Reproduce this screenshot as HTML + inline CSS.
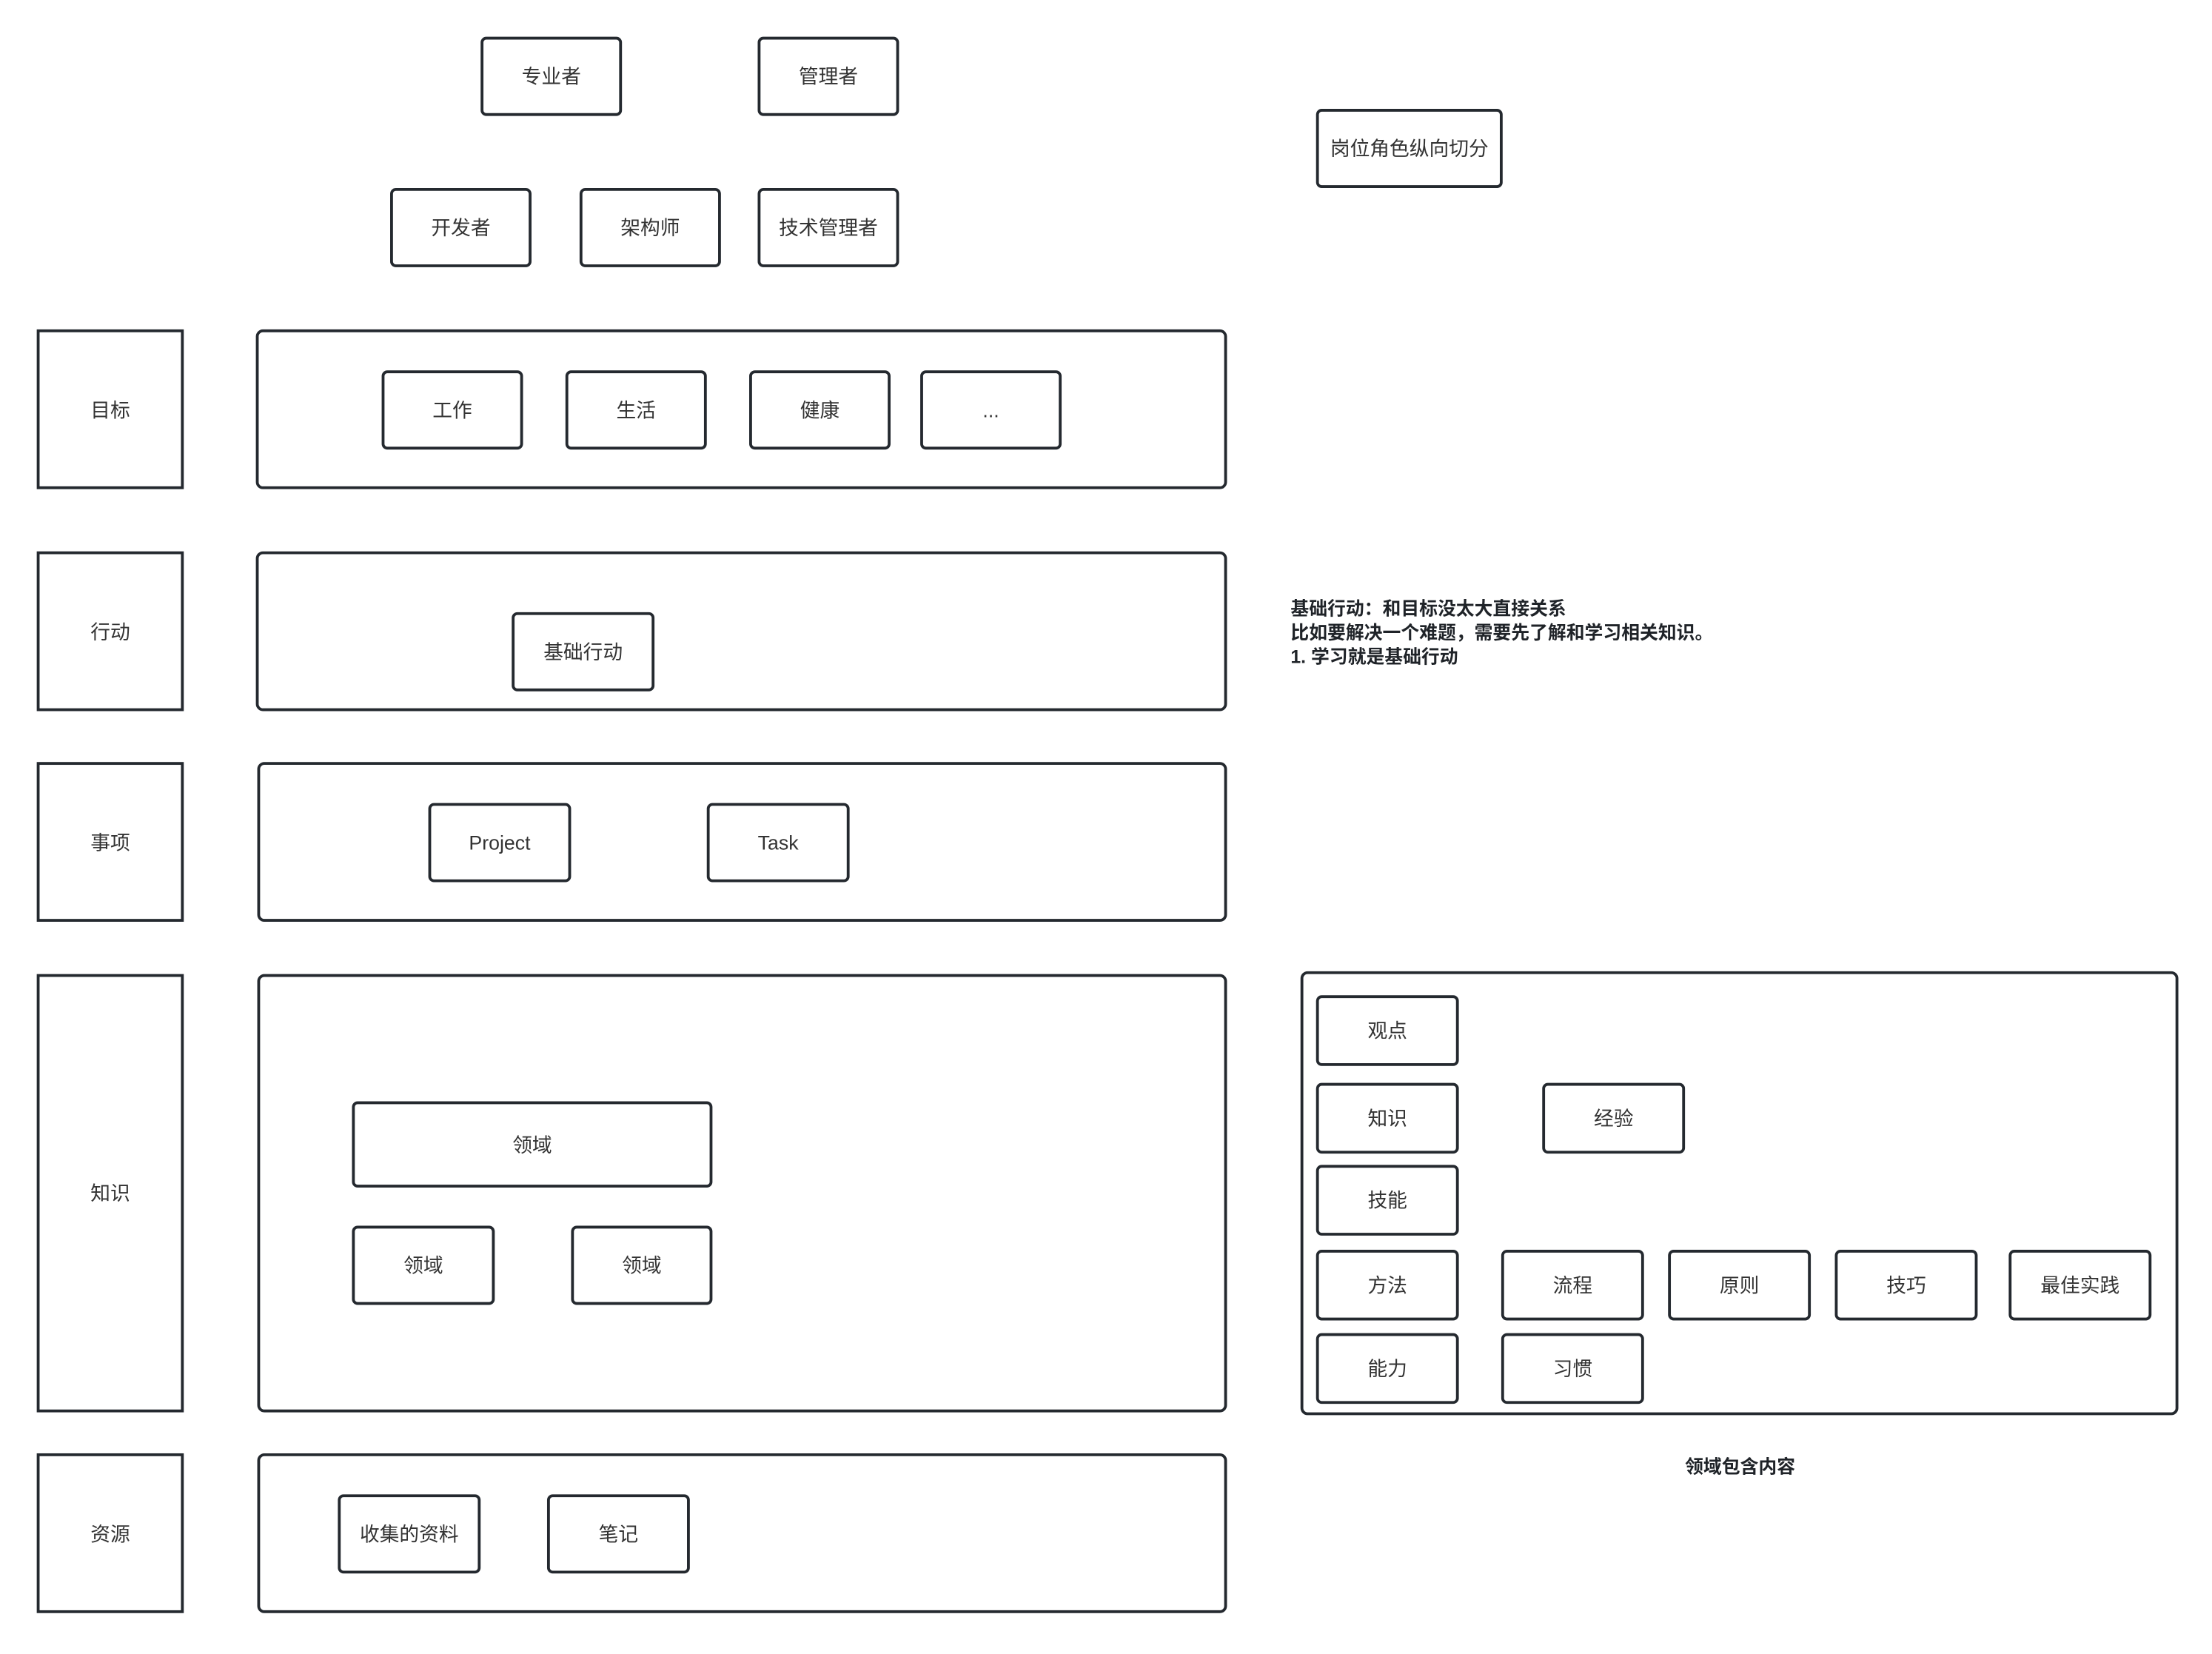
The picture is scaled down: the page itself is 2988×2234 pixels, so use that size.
<!DOCTYPE html>
<html><head><meta charset="utf-8"><style>
html,body{margin:0;padding:0;background:#fff;width:2988px;height:2226px;overflow:hidden}
#w{position:absolute;left:0;top:0;width:1570px;height:1170px;transform:scale(1.9095);transform-origin:0 0}
.b{position:absolute;box-sizing:border-box;border:2px solid #24292f;border-radius:4px;display:flex;align-items:center;justify-content:center;font-family:"Liberation Sans","Noto Sans CJK SC",sans-serif;font-size:14px;color:#333;background:#fff}
.s{border-radius:0}
.c{border-radius:5px;background:transparent}
.t{position:absolute;font-family:"Liberation Sans","Noto Sans CJK SC",sans-serif;font-weight:bold;font-size:13px;color:#1f2328;line-height:17px;white-space:nowrap}
</style></head><body><div id="w">
<div class="b" style="left:340px;top:26px;width:100px;height:56px">专业者</div>
<div class="b" style="left:536px;top:26px;width:100px;height:56px">管理者</div>
<div class="b" style="left:931px;top:77px;width:132px;height:56px">岗位角色纵向切分</div>
<div class="b" style="left:276px;top:133px;width:100px;height:56px">开发者</div>
<div class="b" style="left:410px;top:133px;width:100px;height:56px">架构师</div>
<div class="b" style="left:536px;top:133px;width:100px;height:56px">技术管理者</div>

<div class="b s" style="left:26px;top:233px;width:104px;height:113px">目标</div>
<div class="b c" style="left:181px;top:233px;width:687px;height:113px"></div>
<div class="b" style="left:270px;top:262px;width:100px;height:56px">工作</div>
<div class="b" style="left:400px;top:262px;width:100px;height:56px">生活</div>
<div class="b" style="left:530px;top:262px;width:100px;height:56px">健康</div>
<div class="b" style="left:651px;top:262px;width:100px;height:56px">...</div>

<div class="b s" style="left:26px;top:390px;width:104px;height:113px">行动</div>
<div class="b c" style="left:181px;top:390px;width:687px;height:113px"></div>
<div class="b" style="left:362px;top:433px;width:101px;height:56px">基础行动</div>

<div class="b s" style="left:26px;top:539px;width:104px;height:113px">事项</div>
<div class="b c" style="left:182px;top:539px;width:686px;height:113px"></div>
<div class="b" style="left:303px;top:568px;width:101px;height:56px">Project</div>
<div class="b" style="left:500px;top:568px;width:101px;height:56px">Task</div>

<div class="b s" style="left:26px;top:689px;width:104px;height:310px">知识</div>
<div class="b c" style="left:182px;top:689px;width:686px;height:310px"></div>
<div class="b" style="left:249px;top:779px;width:255px;height:61px">领域</div>
<div class="b" style="left:249px;top:867px;width:101px;height:56px">领域</div>
<div class="b" style="left:404px;top:867px;width:100px;height:56px">领域</div>

<div class="b s" style="left:26px;top:1028px;width:104px;height:113px">资源</div>
<div class="b c" style="left:182px;top:1028px;width:686px;height:113px"></div>
<div class="b" style="left:239px;top:1057px;width:101px;height:56px">收集的资料</div>
<div class="b" style="left:387px;top:1057px;width:101px;height:56px">笔记</div>

<div class="t" style="left:913px;top:422px">基础行动：和目标没太大直接关系<br>比如要解决一个难题，需要先了解和学习相关知识。<br>1. 学习就是基础行动</div>

<div class="b c" style="left:920px;top:687px;width:621px;height:314px"></div>
<div class="b" style="left:931px;top:704px;width:101px;height:50px">观点</div>
<div class="b" style="left:931px;top:766px;width:101px;height:50px">知识</div>
<div class="b" style="left:1091px;top:766px;width:101px;height:50px">经验</div>
<div class="b" style="left:931px;top:824px;width:101px;height:50px">技能</div>
<div class="b" style="left:931px;top:884px;width:101px;height:50px">方法</div>
<div class="b" style="left:1062px;top:884px;width:101px;height:50px">流程</div>
<div class="b" style="left:1180px;top:884px;width:101px;height:50px">原则</div>
<div class="b" style="left:1298px;top:884px;width:101px;height:50px">技巧</div>
<div class="b" style="left:1421px;top:884px;width:101px;height:50px">最佳实践</div>
<div class="b" style="left:931px;top:943px;width:101px;height:50px">能力</div>
<div class="b" style="left:1062px;top:943px;width:101px;height:50px">习惯</div>
<div class="t" style="left:1131px;top:1029px;width:200px;text-align:center">领域包含内容</div>
</div></body></html>
